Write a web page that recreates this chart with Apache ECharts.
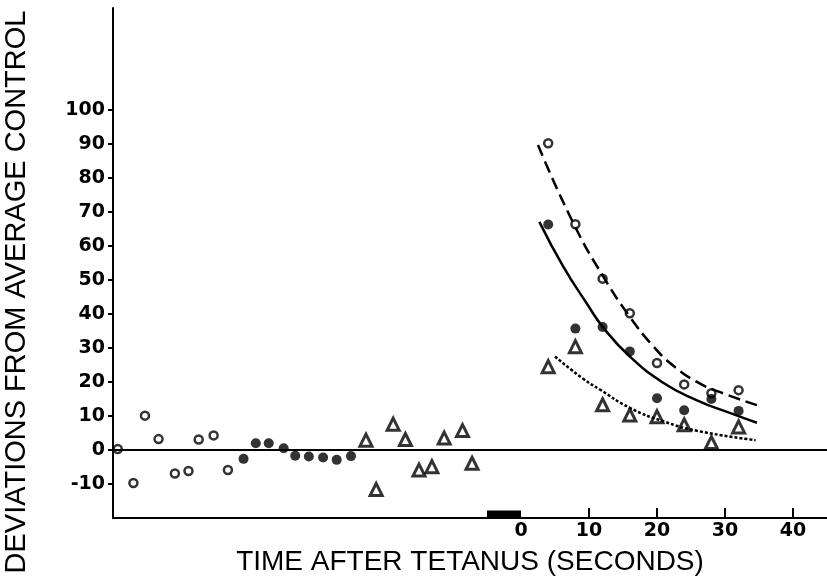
<!DOCTYPE html>
<html>
<head>
<meta charset="utf-8">
<script src="https://cdn.jsdelivr.net/npm/echarts@6/dist/echarts.min.js"></script>
<style>
  html, body { margin: 0; padding: 0; background: #fff; }
  #chart { width: 827px; height: 584px; }
</style>
</head>
<body>
<div id="chart"></div>
<script>
// open circles (control period + after tetanus)
const openTimes = [-59.3, -57.0, -55.3, -53.3, -50.9, -48.9, -47.4, -45.2, -43.1, 4, 8, 12, 16, 20, 24, 28, 32]
const openValues = [0.3, -9.7, 10.1, 3.2, -6.9, -6.2, 3.1, 4.3, -5.9, 90.2, 66.4, 50.4, 40.2, 25.6, 19.3, 16.7, 17.6]

// filled circles
const filledTimes = [-40.8, -39.0, -37.1, -34.9, -33.2, -31.2, -29.1, -27.1, -25.0, 4, 8, 12, 16, 20, 24, 28, 32]
const filledValues = [-2.6, 2.0, 2.0, 0.5, -1.7, -1.9, -2.2, -2.9, -1.8, 66.3, 35.7, 36.2, 29.0, 15.2, 11.7, 15.0, 11.5]

// triangles
const triTimes = [-22.8, -21.3, -18.8, -17.0, -15.0, -13.1, -11.3, -8.6, -7.2, 4, 8, 12, 16, 20, 24, 28, 32]
const triValues = [2.9, -11.6, 7.6, 3.1, -5.9, -4.9, 3.5, 5.7, -3.9, 24.5, 30.4, 13.3, 10.3, 9.8, 7.4, 2.2, 6.8]

// fitted curves
const dashedTimes = [2.5, 7.7, 12.1, 16.0, 19.5, 22.4, 25.8, 29.3, 34.7]
const dashedValues = [89.7, 66.7, 51.0, 39.2, 30.4, 24.8, 20.1, 17.0, 13.2]
const solidTimes = [2.7, 6.2, 9.7, 12.1, 16.0, 20.9, 25.8, 30.7, 34.7]
const solidValues = [67.1, 54.0, 43.0, 36.0, 27.5, 19.8, 14.7, 10.9, 8.0]
const dottedTimes = [5.0, 9.1, 11.6, 16.0, 21.0, 26.0, 34.5]
const dottedValues = [27.5, 21.0, 17.8, 12.4, 8.4, 5.6, 2.9]

// tetanus bar on the time axis
const tetanusStart = -5
const tetanusEnd = 0

const xTicks = [10, 20, 30, 40]
const xLabels = [0, 10, 20, 30, 40]
const yTicks = [-10, 0, 10, 20, 30, 40, 50, 60, 70, 80, 90, 100]

const zip = (xs, ys) => xs.map((x, i) => [x, ys[i]])

const labelFont = { fontFamily: 'DejaVu Sans', fontWeight: 'bold', fontSize: 19, color: '#000' }

const chart = echarts.init(document.getElementById('chart'))

const curve = (data, type) => ({
  type: 'line',
  data: data,
  smooth: true,
  showSymbol: false,
  silent: true,
  lineStyle: { color: '#000', width: 2.5, type: type }
})

chart.setOption({
  animation: false,
  backgroundColor: '#fff',
  grid: { left: 113, right: 0, top: 8, bottom: 66, outerBoundsMode: 'none', containLabel: false },
  xAxis: {
    type: 'value',
    min: -60,
    max: 45,
    name: 'TIME AFTER TETANUS (SECONDS)',
    nameLocation: 'middle',
    nameGap: 30,
    nameTextStyle: { fontFamily: 'Liberation Sans', fontSize: 28, color: '#000' },
    splitLine: { show: false },
    axisLine: { onZero: false, lineStyle: { color: '#000', width: 2 } },
    axisTick: { customValues: xTicks, inside: true, length: 10, lineStyle: { color: '#000', width: 2 } },
    axisLabel: Object.assign({ customValues: xLabels, margin: 4 }, labelFont)
  },
  yAxis: {
    type: 'value',
    min: -20,
    max: 130,
    name: 'DEVIATIONS FROM AVERAGE CONTROL',
    nameLocation: 'middle',
    nameGap: 82,
    nameTextStyle: { fontFamily: 'Liberation Sans', fontSize: 29, color: '#000', padding: [0, 58, 0, 0] },
    splitLine: { show: false },
    axisLine: { onZero: false, lineStyle: { color: '#000', width: 2 } },
    axisTick: { customValues: yTicks, length: 5, lineStyle: { color: '#000', width: 2 } },
    axisLabel: Object.assign({ customValues: yTicks, margin: 8 }, labelFont)
  },
  series: [
    {
      type: 'scatter',
      data: zip(openTimes, openValues),
      symbol: 'circle',
      symbolSize: 8,
      itemStyle: { color: '#fff', borderColor: '#000', borderWidth: 2.5 },
      markLine: {
        silent: true,
        symbol: 'none',
        label: { show: false },
        lineStyle: { color: '#000', width: 2, type: 'solid' },
        data: [{ yAxis: 0 }]
      },
      markArea: {
        silent: true,
        itemStyle: { color: '#000' },
        data: [[{ xAxis: tetanusStart, yAxis: -20 }, { xAxis: tetanusEnd, yAxis: -17.8 }]]
      }
    },
    {
      type: 'scatter',
      data: zip(filledTimes, filledValues),
      symbol: 'circle',
      symbolSize: 10,
      itemStyle: { color: '#000' }
    },
    {
      type: 'scatter',
      data: zip(triTimes, triValues),
      symbol: 'triangle',
      symbolSize: 12,
      itemStyle: { color: '#fff', borderColor: '#000', borderWidth: 3 }
    },
    curve(zip(dashedTimes, dashedValues), [12, 6]),
    curve(zip(solidTimes, solidValues), 'solid'),
    curve(zip(dottedTimes, dottedValues), [3, 2])
  ]
})
</script>
</body>
</html>
